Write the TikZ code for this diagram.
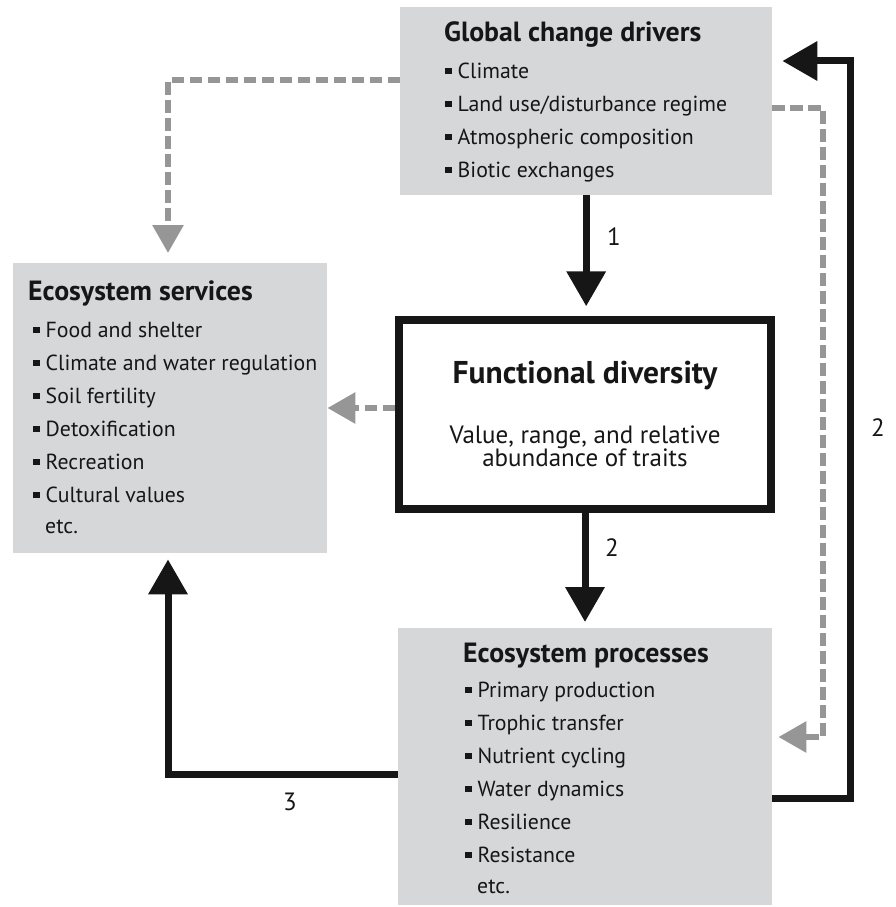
\documentclass[tikz,border=0pt]{standalone}
\usepackage{fontspec}
\setmainfont{PT Sans}
\usetikzlibrary{arrows.meta}
\definecolor{boxgray}{RGB}{214,215,217}
\definecolor{dashgray}{RGB}{150,150,150}
\definecolor{inkblack}{RGB}{22,22,22}
\newcommand{\sqbul}{\rule[4pt]{6.5pt}{6.5pt}\hspace{6pt}}

\tikzset{
  graybox/.style={fill=boxgray, draw=none, anchor=north west, inner sep=0pt},
  fdbox/.style={draw=inkblack, fill=white, line width=7.5pt, inner sep=0pt},
  title/.style={font=\fontsize{27.8}{32}\selectfont\bfseries, text=inkblack, anchor=base west, inner sep=0pt},
  item/.style={font=\fontsize{21.8}{26}\selectfont, text=inkblack, anchor=base west, inner sep=0pt},
  fdtitle/.style={font=\fontsize{31.5}{36}\selectfont\bfseries, text=inkblack, anchor=base, inner sep=0pt},
  fdtext/.style={font=\fontsize{25}{29}\selectfont, text=inkblack, anchor=base, inner sep=0pt},
  flow/.style={draw=inkblack, line width=7pt, -{Triangle[length=35pt,width=38pt]}},
  feed/.style={draw=dashgray, line width=6pt, dash pattern=on 12.5pt off 5.5pt, -{Triangle[length=28pt,width=30pt]}},
  num/.style={font=\fontsize{25}{29}\selectfont, text=inkblack, inner sep=0pt},
}

\begin{document}
\begin{tikzpicture}[x=1pt,y=-1pt]
\useasboundingbox (0,0) rectangle (895,907);

% boxes
\node[graybox, minimum width=372pt, minimum height=188pt] (gcd) at (400,7) {};
\node[graybox, minimum width=314pt, minimum height=290pt] (es) at (13,263) {};
\node[graybox, minimum width=374pt, minimum height=277pt] (ep) at (398,628) {};
\node[fdbox, minimum width=372pt, minimum height=189pt] (fd) at (585,414.5) {};

% bends of the feedback loops
\coordinate (dl) at (168,80);
\coordinate (dr) at (823,108);
\coordinate (db) at (823,737);
\coordinate (rt) at (850,61);
\coordinate (rb) at (850,798);
\coordinate (lb) at (168,774);

% global change drivers
\node[title] (gcdt) at (444,42) {Global change drivers};
\foreach \t [count=\i] in {Climate, Land use/disturbance regime, Atmospheric composition, Biotic exchanges}
{
\node[item] (gcd\i) at (445,{78+33*(\i-1)}) {\sqbul\t};
}

% ecosystem services
\node[title] (est) at (28,300) {Ecosystem services};
\foreach \t [count=\i] in {Food and shelter, Climate and water regulation, Soil fertility, Detoxification, Recreation, Cultural values}
{
\node[item] (es\i) at (33,{337+33*(\i-1)}) {\sqbul\t};
}
\node[item] (esetc) at (45,533) {etc.};

% ecosystem processes
\node[title] (ept) at (463,662) {Ecosystem processes};
\foreach \t [count=\i] in {Primary production, Trophic transfer, Nutrient cycling, Water dynamics, Resilience, Resistance}
{
\node[item] (ep\i) at (465,{697+33*(\i-1)}) {\sqbul\t};
}
\node[item] (epetc) at (477,893) {etc.};

% functional diversity
\node[fdtitle] (fdt) at (585,383) {Functional diversity};
\node[fdtext] (fdv1) at (585,443) {Value, range, and relative};
\node[fdtext] (fdv2) at (585,466) {abundance of traits};

% dashed links
\draw[feed, shorten >=10pt] (dl -| gcd.west) -- (dl) -- (dl |- es.north);
\draw[feed] ([yshift=6.5pt]fd.west) -- ([yshift=6.5pt]fd.west -| es.east);
\draw[feed, shorten >=6pt] (dr -| gcd.east) -- (dr) -- (db) -- (db -| ep.east);

% solid links
\draw[flow, shorten >=10pt] (gcd.south) -- (gcd.south |- fd.north);
\draw[flow, shorten >=6pt] (fd.south) -- (fd.south |- ep.north);
\draw[flow, shorten >=6pt] (lb -| ep.west) -- (lb) -- (lb |- es.south);
\draw[flow, shorten >=10pt] (rb -| ep.east) -- (rb) -- (rt) -- (rt -| gcd.east);

\node[num] (n1) at (614,237) {1};
\node[num] (n2) at (612,548) {2};
\node[num] (n3) at (290,802) {3};
\node[num] (n4) at (878,428) {2};
\end{tikzpicture}
\end{document}
